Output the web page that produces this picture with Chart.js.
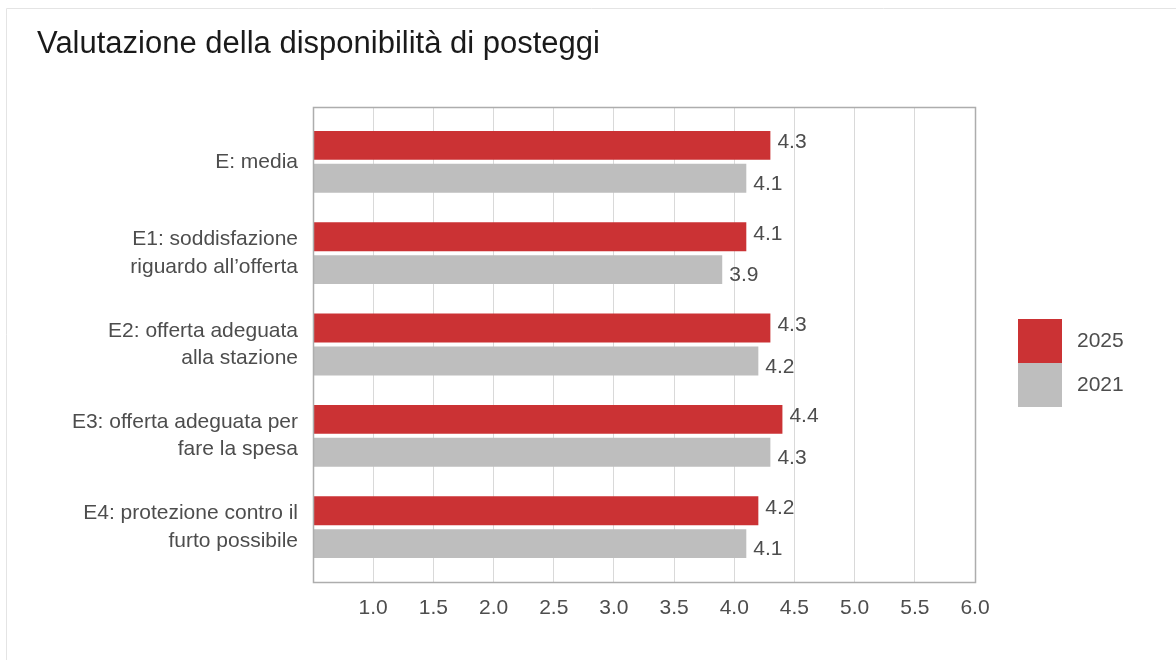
<!DOCTYPE html>
<html>
<head>
<meta charset="utf-8">
<script src="https://cdn.jsdelivr.net/npm/chart.js@4.4.1/dist/chart.umd.min.js"></script>
<style>
  html, body { margin: 0; padding: 0; background: #fff; }
  #wrap { width: 1176px; height: 660px; position: relative; }
</style>
</head>
<body>
<div id="wrap"><canvas id="chart" width="1176" height="660"></canvas></div>
<script>
  // dati
  const categorie = [
    ["E: media"],
    ["E1: soddisfazione", "riguardo all\u2019offerta"],
    ["E2: offerta adeguata", "alla stazione"],
    ["E3: offerta adeguata per", "fare la spesa"],
    ["E4: protezione contro il", "furto possibile"]
  ];
  const anni = ["2025", "2021"];
  const valori2025 = [4.3, 4.1, 4.3, 4.4, 4.2];
  const valori2021 = [4.1, 3.9, 4.2, 4.3, 4.1];
  const tickX = [1.0, 1.5, 2.0, 2.5, 3.0, 3.5, 4.0, 4.5, 5.0, 5.5, 6.0];

  const colori = ["#cb3234", "#bebebe"];
  const FONT = "'Liberation Sans', Arial, sans-serif";
  const GRIGIO = "#4d4d4d";

  const toPoints = arr => arr.map((v, i) => ({ x: v, y: i }));

  // cornice, titolo, etichette e legenda
  const extra = {
    id: "extra",
    beforeDraw(chart) {
      const ctx = chart.ctx;
      ctx.save();
      ctx.strokeStyle = "#e4e4e4";
      ctx.lineWidth = 1;
      ctx.beginPath();
      ctx.moveTo(6.5, 660);
      ctx.lineTo(6.5, 8.5);
      ctx.lineTo(1176, 8.5);
      ctx.stroke();
      ctx.fillStyle = "#1a1a1a";
      ctx.font = "31px " + FONT;
      ctx.textBaseline = "alphabetic";
      ctx.textAlign = "left";
      ctx.fillText("Valutazione della disponibilit\u00e0 di posteggi", 37, 53);
      ctx.restore();
    },
    afterDatasetsDraw(chart) {
      const ctx = chart.ctx;
      const a = chart.chartArea;
      ctx.save();
      ctx.strokeStyle = "#adadad";
      ctx.lineWidth = 1.5;
      ctx.strokeRect(Math.round(a.left) + 0.5, Math.round(a.top) + 0.5,
        Math.round(a.right - a.left), Math.round(a.bottom - a.top));

      ctx.font = "21px " + FONT;
      ctx.fillStyle = GRIGIO;
      ctx.textAlign = "left";
      ctx.textBaseline = "middle";
      chart.data.datasets.forEach((ds, di) => {
        chart.getDatasetMeta(di).data.forEach((bar, i) => {
          const dy = di === 0 ? -3 : 6;
          ctx.fillText(ds.data[i].x.toFixed(1), bar.x + 7, bar.y + dy);
        });
      });

      // legenda
      chart.data.datasets.forEach((ds, di) => {
        const y = 319 + di * 44;
        ctx.fillStyle = ds.backgroundColor;
        ctx.fillRect(1018, y, 44, 44);
        ctx.fillStyle = GRIGIO;
        ctx.fillText(ds.label, 1077, y + 22);
      });
      ctx.restore();
    }
  };

  new Chart(document.getElementById("chart"), {
    type: "bar",
    data: {
      datasets: [
        { label: anni[0], data: toPoints(valori2025), backgroundColor: colori[0] },
        { label: anni[1], data: toPoints(valori2021), backgroundColor: colori[1] }
      ]
    },
    options: {
      indexAxis: "y",
      responsive: false,
      animation: false,
      events: [],
      categoryPercentage: 0.72,
      barPercentage: 0.88,
      layout: { padding: { top: 107, right: 201, left: 0, bottom: 0 } },
      plugins: { legend: { display: false }, tooltip: { enabled: false } },
      scales: {
        x: {
          type: "linear",
          min: 0.5,
          max: 6,
          afterBuildTicks: s => { s.ticks = [0.5].concat(tickX).map(v => ({ value: v })); },
          afterFit: s => { s.height = 78; },
          grid: { color: "#d9d9d9", lineWidth: 1, drawTicks: false },
          border: { display: false },
          ticks: {
            padding: 14,
            color: GRIGIO,
            font: { family: FONT, size: 21 },
            callback: v => v >= 1 ? v.toFixed(1) : ""
          }
        },
        y: {
          type: "linear",
          reverse: true,
          offset: false,
          min: -0.6,
          max: 4.6,
          afterBuildTicks: s => { s.ticks = categorie.map((c, i) => ({ value: i })); },
          afterFit: s => { s.width = 313; },
          grid: { display: false, drawTicks: false, offset: false },
          border: { display: false },
          ticks: {
            padding: 15,
            color: GRIGIO,
            font: { family: FONT, size: 21, lineHeight: 1.3 },
            callback: v => categorie[v]
          }
        }
      }
    },
    plugins: [extra]
  });
</script>
</body>
</html>
